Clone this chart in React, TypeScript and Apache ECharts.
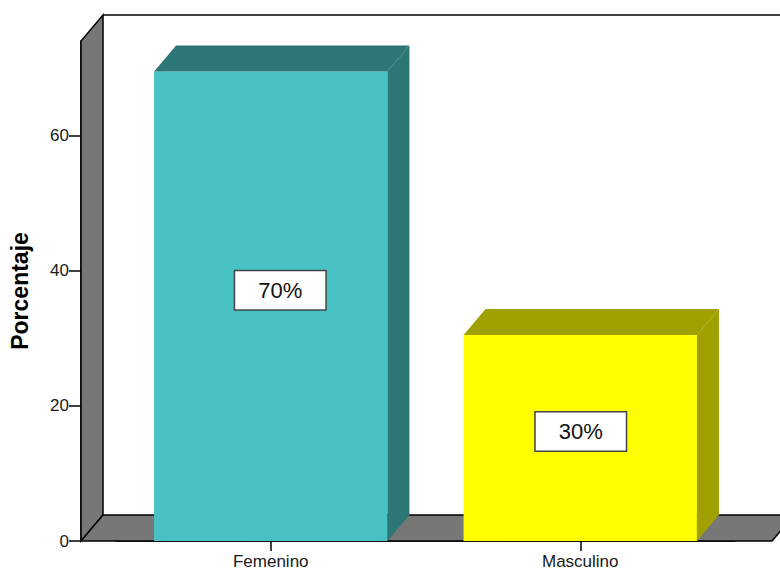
import React, { useEffect, useRef } from "react";
import * as echarts from "echarts";

const CATEGORIES = ["Femenino", "Masculino"];
const PERCENTAGES = [69.5, 30.5];
const VALUE_LABELS = ["70%", "30%"];
const Y_TICKS = [0, 20, 40, 60];
const Y_MAX = 74;

const FONT = '"Liberation Sans", Arial, sans-serif';
const DX = 22;
const DY = 26;
const FRONT = ["#48C1C5", "#FFFF00"];
const DARK = ["#2D7676", "#A0A000"];
const WALL = "#777777";
const LABEL_SHIFT = [
  [9.5, -16],
  [0.5, -6.5],
];

export default function App() {
  const ref = useRef<HTMLDivElement>(null);
  useEffect(() => {
    if (!ref.current) return;
    const chart = echarts.init(ref.current, undefined, { renderer: "svg" });
    const barData = PERCENTAGES.map((v, i) => [i, v]);
    const option: any = {
      animation: false,
      backgroundColor: "#ffffff",
      grid: { left: 114, right: 45, top: 41, bottom: 29 },
      xAxis: {
        type: "category",
        data: CATEGORIES,
        axisLine: { show: true, lineStyle: { color: "#000", width: 1.5 } },
        axisTick: { show: true, alignWithLabel: true, length: 10, lineStyle: { color: "#000", width: 1.5 } },
        axisLabel: { margin: 12, fontSize: 17, fontFamily: FONT, color: "#1a1a1a" },
        splitLine: { show: false },
      },
      yAxis: {
        type: "value",
        min: 0,
        max: Y_MAX,
        offset: 35,
        name: "Porcentaje",
        nameLocation: "middle",
        nameGap: 50,
        nameTextStyle: { fontSize: 23, fontWeight: "bold", fontFamily: FONT, color: "#000" },
        axisLine: { show: true, lineStyle: { color: "#000", width: 1.5 } },
        axisTick: { show: true, length: 12, customValues: Y_TICKS, lineStyle: { color: "#000", width: 1.5 } },
        axisLabel: { margin: 12, fontSize: 17, fontFamily: FONT, color: "#1a1a1a", customValues: Y_TICKS },
        splitLine: { show: false },
      },
      series: [
        {
          type: "custom",
          z: 1,
          clip: false,
          silent: true,
          data: [[0, 0]],
          renderItem: (params: any, api: any) => {
            const cs = params.coordSys;
            const yBot = api.coord([0, 0])[1];
            const yTop = api.coord([0, Y_MAX])[1];
            const L = cs.x - 35;
            const R = cs.x + cs.width + 37;
            const stroke = { stroke: "#000", lineWidth: 1.5 };
            return {
              type: "group",
              children: [
                {
                  type: "polygon",
                  shape: { points: [[L, yBot], [L, yTop], [L + DX, yTop - DY], [L + DX, yBot - DY]] },
                  style: { fill: WALL, ...stroke },
                },
                {
                  type: "polygon",
                  shape: { points: [[L, yBot], [L + DX, yBot - DY], [R + DX, yBot - DY], [R, yBot]] },
                  style: { fill: WALL, ...stroke },
                },
                {
                  type: "line",
                  shape: { x1: L + DX, y1: yTop - DY, x2: R + DX + 60, y2: yTop - DY },
                  style: { ...stroke },
                },
              ],
            };
          },
        },
        {
          type: "custom",
          z: 3,
          clip: false,
          data: barData,
          renderItem: (params: any, api: any) => {
            const i = params.dataIndex;
            const xi = api.value(0);
            const v = api.value(1);
            const [cx, y0] = api.coord([xi, 0]);
            const y1 = api.coord([xi, v])[1];
            const band = api.size([1, 0])[0];
            const w = band * 0.754;
            const Lx = cx - w / 2;
            const Rx = cx + w / 2;
            const shift = LABEL_SHIFT[i];
            return {
              type: "group",
              children: [
                {
                  type: "rect",
                  shape: { x: Lx, y: y1, width: w, height: y0 - y1 },
                  style: { fill: FRONT[i] },
                },
                {
                  type: "polygon",
                  shape: { points: [[Lx, y1], [Lx + DX, y1 - DY], [Rx + DX, y1 - DY], [Rx, y1]] },
                  style: { fill: DARK[i] },
                },
                {
                  type: "polygon",
                  shape: { points: [[Rx, y1], [Rx + DX, y1 - DY], [Rx + DX, y0 - DY], [Rx, y0]] },
                  style: { fill: DARK[i] },
                },
                {
                  type: "text",
                  z2: 10,
                  style: {
                    text: VALUE_LABELS[i],
                    x: cx + shift[0],
                    y: (y0 + y1) / 2 + shift[1],
                    align: "center",
                    verticalAlign: "middle",
                    fontSize: 22,
                    fontFamily: FONT,
                    fill: "#111",
                    backgroundColor: "#ffffff",
                    borderColor: "#444",
                    borderWidth: 1.5,
                    padding: [8, 23],
                  },
                },
              ],
            };
          },
        },
      ],
    };
    chart.setOption(option);
    return () => chart.dispose();
  }, []);
  return (
    <div
      ref={ref}
      style={{ position: "fixed", left: 0, top: 0, width: 780, height: 570 }}
    />
  );
}
